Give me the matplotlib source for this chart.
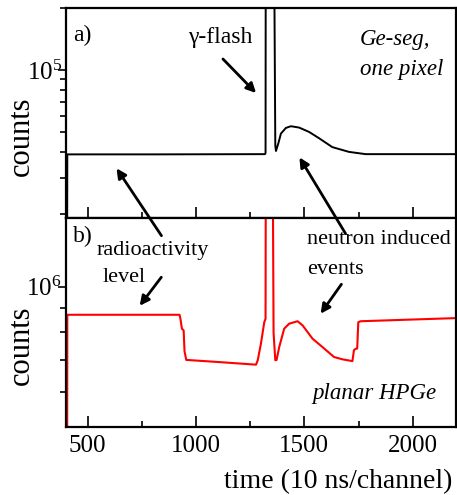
import numpy as np
import matplotlib
matplotlib.use("Agg")
import matplotlib.pyplot as plt
from matplotlib.patches import FancyArrowPatch
from matplotlib.ticker import LogLocator, NullFormatter, MultipleLocator

plt.rcParams["font.family"] = "Liberation Serif"
plt.rcParams["mathtext.fontset"] = "stix"

# panel a) Ge-seg, one pixel (channel, counts)
ch_a = [405, 406, 800, 1318, 1321, 1322, 1360, 1366, 1369, 1380, 1392, 1415, 1438,
        1476, 1522, 1568, 1629, 1706, 1783, 2200]
counts_a = [1.0e4, 3.89e4, 3.89e4, 3.9e4, 3.95e4, 5e5, 5e5, 4.3e4, 4.04e4, 4.4e4,
            4.91e4, 5.23e4, 5.33e4, 5.25e4, 5.0e4, 4.66e4, 4.22e4, 4.0e4, 3.9e4, 3.9e4]

# panel b) planar HPGe (channel, counts)
ch_b = [405, 406, 924, 928, 935, 943, 947, 955, 1100, 1277, 1285, 1300, 1315, 1321,
        1323, 1352, 1358, 1366, 1372, 1384, 1407, 1430, 1469, 1492, 1538, 1584, 1637,
        1676, 1722, 1729, 1737, 1744, 1749, 1760, 2200]
counts_b = [3e5, 8.72e5, 8.72e5, 8.56e5, 8.15e5, 8.08e5, 7.3e5, 7.0e5, 6.93e5, 6.84e5,
            6.99e5, 7.59e5, 8.41e5, 8.55e5, 3e6, 3e6, 8e5, 6.99e5, 7.0e5, 7.45e5,
            8.15e5, 8.35e5, 8.45e5, 8.28e5, 7.76e5, 7.45e5, 7.10e5, 7.02e5, 6.96e5,
            7.34e5, 7.39e5, 7.4e5, 8.41e5, 8.45e5, 8.58e5]

W, H = 457, 495
fig, (ax1, ax2) = plt.subplots(2, 1, sharex=True, figsize=(W / 100, H / 100), dpi=100)
fig.subplots_adjust(left=66 / W, right=456 / W, top=1 - 8 / H, bottom=1 - 427 / H, hspace=0)

ax1.plot(ch_a, counts_a, color="black", lw=1.4)
ax2.plot(ch_b, counts_b, color="red", lw=1.5)

ax1.set_yscale("log")
ax2.set_yscale("log")
ax1.set_ylim(1.92e4, 2.0e5)
ax2.set_ylim(5.05e5, 1.4e6)
ax2.set_xlim(400, 2200)
ax2.xaxis.set_major_locator(MultipleLocator(500))
ax2.xaxis.set_minor_locator(MultipleLocator(250))

for ax in (ax1, ax2):
    ax.yaxis.set_major_locator(LogLocator(base=10))
    ax.yaxis.set_minor_locator(LogLocator(base=10, subs=np.arange(2, 10)))
    ax.yaxis.set_minor_formatter(NullFormatter())
    ax.tick_params(axis="x", which="major", direction="in", length=8, width=1.2, labelsize=18, pad=6)
    ax.tick_params(axis="x", which="minor", direction="in", length=4, width=1.2)
    ax.tick_params(axis="y", which="major", direction="out", length=6, width=1.2, labelsize=18, pad=-3)
    ax.tick_params(axis="y", which="minor", direction="out", length=4, width=1.2)
    ax.set_ylabel("counts", fontsize=22)
    ax.yaxis.set_label_coords(-0.076, 0.39)
    for s in ax.spines.values():
        s.set_linewidth(1.6)

ax2.set_xlabel("time (10 ns/channel)", fontsize=20, ha="right", va="top")
ax2.xaxis.set_label_coords(386 / 390, -0.2)


def px(x, y):
    return (x / W, 1 - y / H)


fig.text(*px(73, 35), "a)", fontsize=17, va="center")
fig.text(*px(73, 236), "b)", fontsize=17, va="center")
fig.text(*px(360, 40), "Ge-seg,", fontsize=16.5, style="italic", va="center")
fig.text(*px(360, 69), "one pixel", fontsize=16.5, style="italic", va="center")
fig.text(*px(312, 394), "planar HPGe", fontsize=16.5, style="italic", va="center")

fig.text(*px(220, 38), "\u03b3-flash", fontsize=17, ha="center", va="center")
fig.text(*px(97, 251), "radioactivity", fontsize=16, va="center")
fig.text(*px(103, 278), "level", fontsize=16, va="center")
fig.text(*px(307, 240), "neutron induced", fontsize=16, va="center")
fig.text(*px(307, 270), "events", fontsize=16, va="center")

# arrows: (tail, head) in picture pixels
arrows = [((221, 57), (258, 95)),
          ((163, 238), (115, 166)),
          ((163, 275), (138, 308)),
          ((347, 236), (298, 155)),
          ((343, 282), (319, 316))]
for tail, head in arrows:
    fig.add_artist(FancyArrowPatch(px(*tail), px(*head), transform=fig.transFigure,
                                   arrowstyle="-|>", mutation_scale=14, lw=2, color="black"))

fig.savefig("out.png", dpi=100)
